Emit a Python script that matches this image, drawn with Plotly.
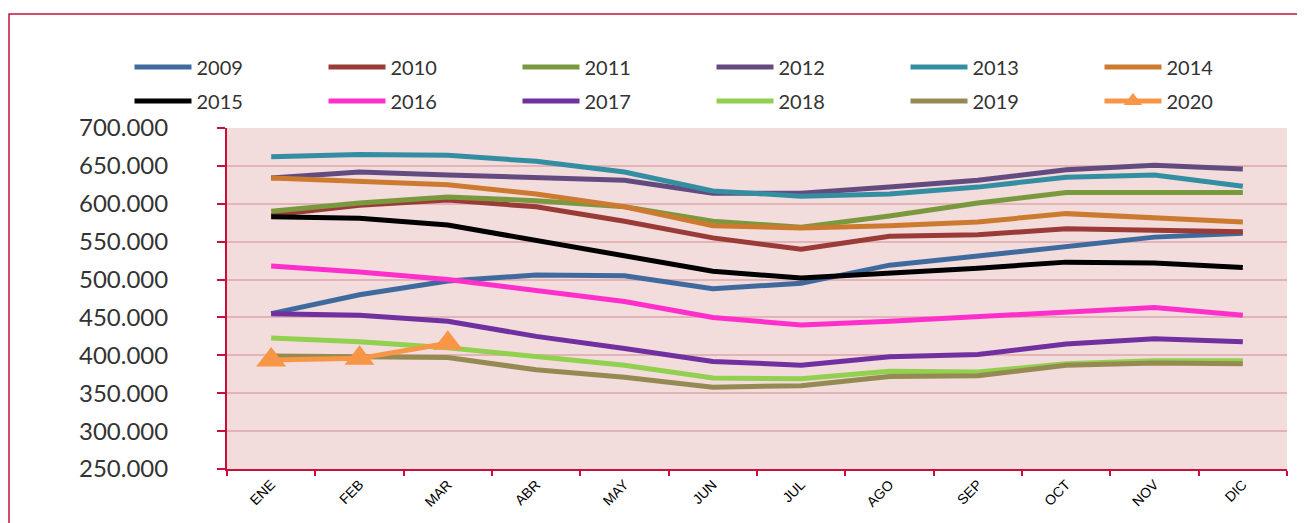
import plotly.graph_objects as go

months = ["ENE", "FEB", "MAR", "ABR", "MAY", "JUN", "JUL", "AGO", "SEP", "OCT", "NOV", "DIC"]

y2009 = [455, 480, 498, 506, 505, 488, 495, 519, 531, 544, 556, 561]
y2010 = [585, 598, 605, 596, 577, 555, 540, 557, 559, 567, 565, 563]
y2011 = [590, 601, 609, 604, 596, 577, 569, 584, 601, 615, 615, 615]
y2012 = [634, 642, 638, 635, 631, 614, 614, 622, 631, 645, 651, 646]
y2013 = [662, 665, 664, 656, 642, 617, 610, 613, 622, 635, 638, 623]
y2014 = [634, 630, 625, 613, 596, 571, 568, 571, 576, 587, 581, 576]
y2015 = [583, 581, 572, 552, 531, 511, 502, 508, 515, 523, 522, 516]
y2016 = [518, 510, 500, 486, 471, 450, 440, 445, 451, 458, 463, 453]
y2017 = [455, 453, 445, 425, 409, 392, 387, 398, 401, 415, 422, 418]
y2018 = [423, 418, 410, 399, 387, 370, 369, 379, 378, 389, 393, 393]
y2019 = [399, 398, 397, 381, 371, 358, 360, 372, 373, 387, 390, 389]
y2020 = [394, 396, 416]

series = [
    ("2009", y2009, "#3e6a9e", "legend"),
    ("2010", y2010, "#9a3b38", "legend"),
    ("2011", y2011, "#7a993e", "legend"),
    ("2012", y2012, "#634b80", "legend"),
    ("2013", y2013, "#348ea2", "legend"),
    ("2014", y2014, "#cd7a31", "legend"),
    ("2015", y2015, "#000000", "legend2"),
    ("2016", y2016, "#ff2fcc", "legend2"),
    ("2017", y2017, "#7030a0", "legend2"),
    ("2018", y2018, "#92d050", "legend2"),
    ("2019", y2019, "#958b52", "legend2"),
]

ytick_vals = [250, 300, 350, 400, 450, 500, 550, 600, 650, 700]
ytick_text = ["250.000", "300.000", "350.000", "400.000", "450.000", "500.000",
              "550.000", "600.000", "650.000", "700.000"]

FONT = "Lato, Roboto, sans-serif"

fig = go.Figure()
for name, vals, col, lg in series:
    fig.add_trace(go.Scatter(
        x=months, y=vals, name=name, mode="lines", legend=lg,
        line=dict(color=col, width=5),
    ))
fig.add_trace(go.Scatter(
    x=months[:len(y2020)], y=y2020, name="2020", mode="lines+markers", legend="legend2",
    line=dict(color="#f79646", width=5),
    marker=dict(symbol="triangle-up", size=26, color="#f79646"),
))

crimson = "#c8103a"

# page body adds an 8px offset; figure coords = screenshot coords - 8
OFF = 8
W, H = 1305 - OFF, 523 - OFF
PLOT_L, PLOT_R, PLOT_T, PLOT_B = 227 - OFF, 1287 - OFF, 128 - OFF, 469 - OFF
PW, PH = PLOT_R - PLOT_L, PLOT_B - PLOT_T

legend_common = dict(
    orientation="h",
    x=(129.5 - OFF - PLOT_L) / PW, xanchor="left",
    yref="paper", yanchor="middle",
    font=dict(size=20, color="#333333", family=FONT),
    entrywidth=122, entrywidthmode="pixels",
    itemwidth=57,
    bgcolor="rgba(0,0,0,0)",
    traceorder="normal",
)

fig.update_layout(
    width=W, height=H,
    margin=dict(l=PLOT_L, r=W - PLOT_R, t=PLOT_T, b=H - PLOT_B, autoexpand=False),
    paper_bgcolor="white",
    plot_bgcolor="#f2dcdc",
    font=dict(family=FONT, color="#333333"),
    showlegend=True,
    legend=dict(legend_common, y=(PLOT_B - (67 - OFF)) / PH),
    legend2=dict(legend_common, y=(PLOT_B - (101 - OFF)) / PH),
    xaxis=dict(
        type="category",
        categoryorder="array", categoryarray=months,
        range=[-0.5, 11.5],
        showgrid=False,
        showline=True, linecolor=crimson, linewidth=2,
        ticks="outside", tickson="boundaries", ticklen=5, tickcolor=crimson, tickwidth=2,
        tickangle=-45,
        tickfont=dict(size=14, color="#000000", family="Liberation Sans, sans-serif"),
        zeroline=False,
    ),
    yaxis=dict(
        range=[250, 700],
        tickvals=ytick_vals, ticktext=ytick_text,
        showgrid=True, gridcolor="#e2b4b8", gridwidth=2,
        showline=True, linecolor=crimson, linewidth=2,
        ticks="outside", ticklen=8, tickcolor=crimson, tickwidth=2,
        ticklabelstandoff=44,
        tickfont=dict(size=24, color="#333333", family=FONT),
        zeroline=False,
    ),
    shapes=[dict(
        type="rect", xref="paper", yref="paper",
        x0=(9 - OFF - PLOT_L) / PW, x1=1.03, y0=-0.2, y1=(PLOT_B - (14 - OFF)) / PH,
        line=dict(color=crimson, width=1.5), fillcolor="rgba(0,0,0,0)",
        layer="below",
    )],
)

fig.write_html("out.html")
